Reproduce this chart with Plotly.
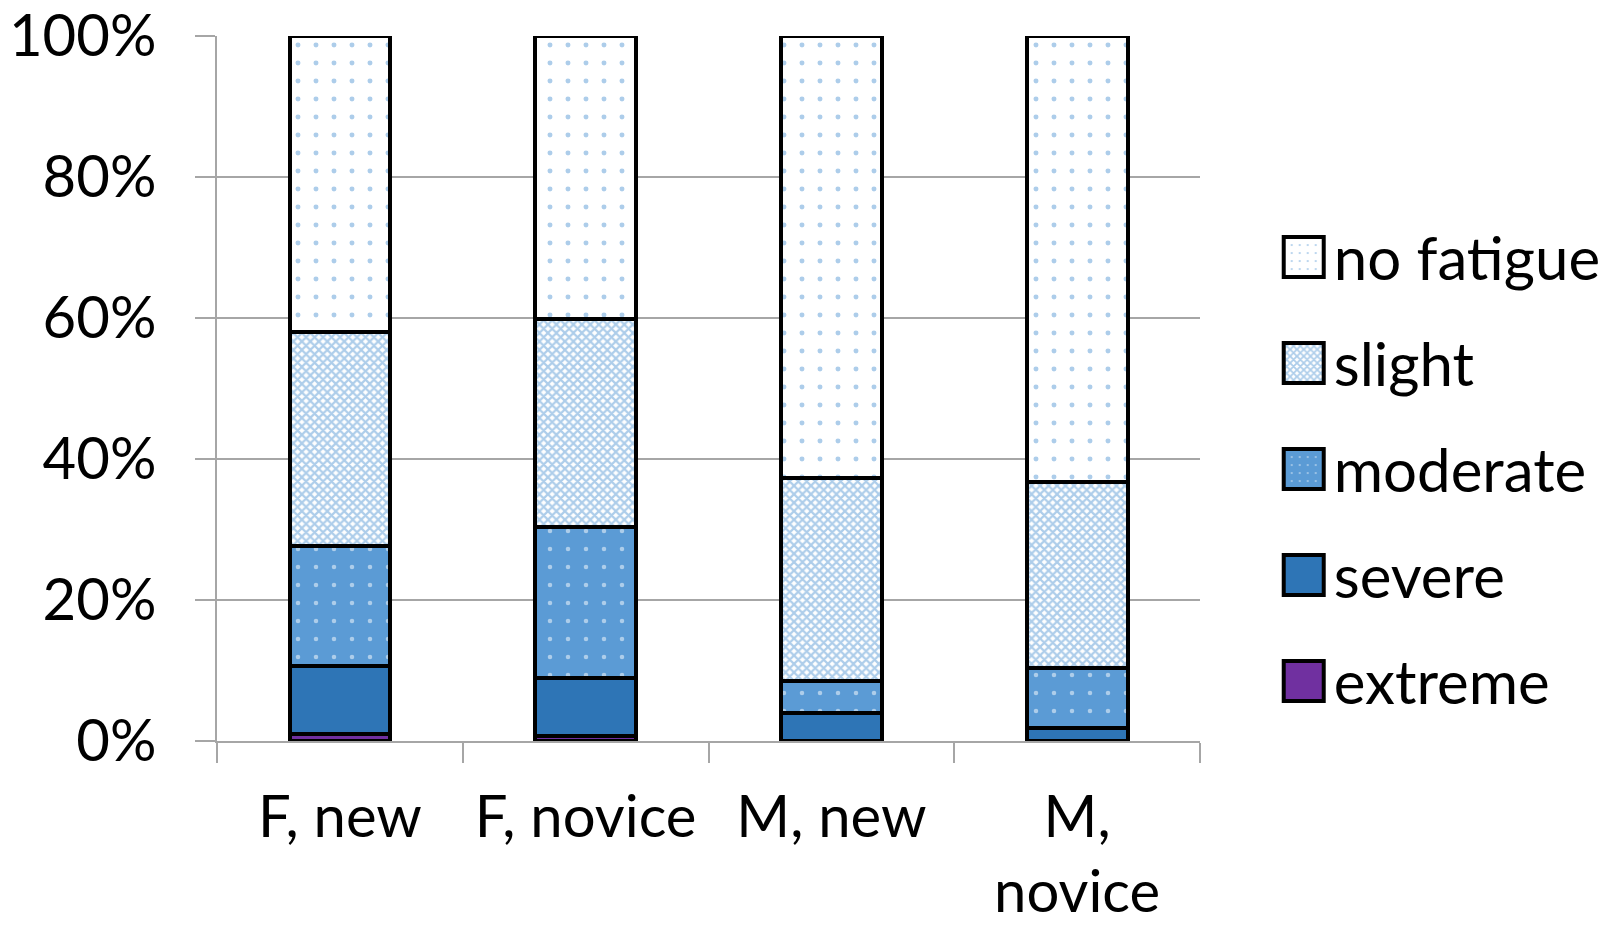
import plotly.graph_objects as go

categories = ["F, new", "F, novice", "M, new", "M,<br>novice"]
extreme = [1.0, 0.7, 0.0, 0.0]
severe = [9.7, 8.2, 4.0, 1.8]
moderate = [17.0, 21.4, 4.5, 8.6]
slight = [30.3, 29.6, 28.8, 26.3]
no_fatigue = [42.0, 40.1, 62.7, 63.3]

BLUE = "#5b9bd5"
series = [
    ("extreme", extreme, dict(color="#7030a0")),
    ("severe", severe, dict(color="#2e75b6")),
    ("moderate", moderate, dict(color=BLUE, pattern=dict(shape=".", bgcolor=BLUE, fgcolor="white",
                                                          fillmode="overlay", size=18, solidity=0.05))),
    ("slight", slight, dict(color="white", pattern=dict(shape="x", bgcolor="white", fgcolor=BLUE,
                                                         fillmode="overlay", size=6, solidity=0.6))),
    ("no fatigue", no_fatigue, dict(color="white", pattern=dict(shape=".", bgcolor="white", fgcolor=BLUE,
                                                                 fillmode="overlay", size=18, solidity=0.06))),
]

FONT = "Lato, Carlito, sans-serif"

fig = go.Figure()
for rank, (name, vals, marker) in enumerate(series):
    fig.add_trace(go.Bar(
        x=categories, y=vals, name=name, legendgroup=name,
        legendrank=100 - rank,
        marker=dict(line=dict(color="black", width=4), **marker),
    ))

fig.update_layout(
    barmode="stack",
    bargap=0.59,
    width=1618, height=928,
    margin=dict(l=217, r=418, t=36, b=187),
    paper_bgcolor="white", plot_bgcolor="white",
    font=dict(family=FONT, size=58, color="black"),
    legend=dict(
        x=1.075, xanchor="left", y=0.751, yanchor="top",
        traceorder="grouped", tracegroupgap=25,
        itemwidth=50, font=dict(size=60),
        bgcolor="rgba(0,0,0,0)",
    ),
    xaxis=dict(
        showline=True, linecolor="#a6a6a6", linewidth=2,
        ticks="outside", tickson="boundaries", ticklen=20, tickwidth=2, tickcolor="#a6a6a6",
        ticklabelstandoff=24, tickfont=dict(size=58), automargin=False,
        ticklabeloverflow="allow",
    ),
    yaxis=dict(
        range=[0, 100], dtick=20, ticksuffix="%",
        showgrid=True, gridcolor="#a6a6a6", gridwidth=2,
        showline=True, linecolor="#a6a6a6", linewidth=2,
        ticks="outside", ticklen=20, tickwidth=2, tickcolor="#a6a6a6",
        ticklabelstandoff=27, zeroline=False, automargin=False,
        ticklabeloverflow="allow",
    ),
)

# Enlarge the legend swatches to match the label size
post = """
var gd = document.getElementById('{plot_id}');
gd.querySelectorAll('.legend .legendpoints path').forEach(function(p){
    p.setAttribute('d', 'M20,20H-20V-20H20Z');
});
"""

fig.write_html("out.html", post_script=post)
